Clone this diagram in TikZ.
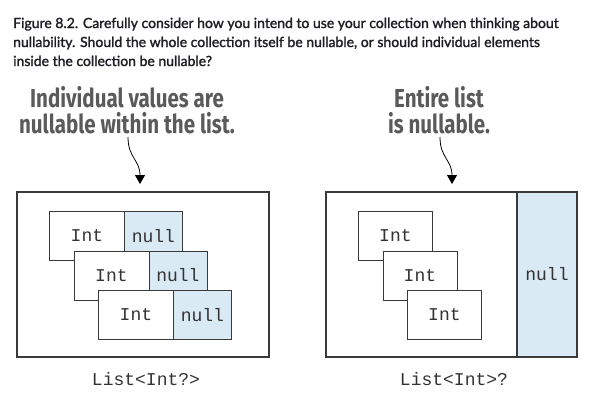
\documentclass[tikz,border=0pt]{standalone}
\usepackage{fontspec}
\setmainfont{Lato}
\setmonofont{Liberation Mono}
\newfontfamily\capfont[FakeBold=1.6]{Lato}
\newfontfamily\headfont[FakeStretch=0.79]{Fira Sans}
\usetikzlibrary{arrows.meta}
\definecolor{nullblue}{HTML}{D9EAF5}
\definecolor{captxt}{HTML}{1E1E24}
\definecolor{headtxt}{HTML}{5A5A5A}
\definecolor{boxline}{HTML}{3A3A3A}
\begin{document}
\begin{tikzpicture}[x=1pt,y=-1pt,
  caption/.style={anchor=base west, inner sep=0, text=captxt, font=\capfont\fontsize{14}{19}\selectfont},
  heading/.style={anchor=north, inner sep=0, align=center, text=headtxt, font=\headfont\bfseries\fontsize{26}{25.5}\selectfont},
  outerbox/.style={draw=boxline, line width=1.2pt, fill=white, minimum height=165pt, inner sep=0},
  cell/.style={draw=boxline, line width=0.9pt, minimum height=49pt, inner sep=0, anchor=north west, font=\ttfamily\fontsize{18}{18}\selectfont, text=black!80},
  intcell/.style={cell, fill=white, minimum width=75pt},
  intcellR/.style={cell, fill=white, minimum width=74pt},
  nullcell/.style={cell, fill=nullblue, minimum width=58pt},
  typelabel/.style={inner sep=0, font=\ttfamily\fontsize{18}{18}\selectfont, text=black!80},
  pointer/.style={draw=black, line width=0.8pt, -{Triangle[width=10pt,length=9pt]}}
]
\useasboundingbox[fill=white] (0,0) rectangle (590,410);

% caption
\node[caption] (cap1) at (13,28) {Figure 8.2. Carefully consider how you intend to use your collection when thinking about};
\node[caption] (cap2) at (13,47) {nullability. Should the whole collection itself be nullable, or should individual elements};
\node[caption] (cap3) at (13,66) {inside the collection be nullable?};

% headings
\node[heading] (headL) at (127,86.5) {Individual values are\\nullable within the list.};
\node[heading] (headR) at (439,86.5) {Entire list\\is nullable.};

% arrows
\coordinate (aLs) at (128,137);
\coordinate (aLe) at (140,184);
\coordinate (aRs) at (440,137);
\coordinate (aRe) at (452,184);
\draw[pointer] (aLs) .. controls (128,158) and (140,160) .. (aLe);
\draw[pointer] (aRs) .. controls (440,158) and (452,160) .. (aRe);

% left box: List<Int?>
\node[outerbox, minimum width=252pt] (outL) at (143,274.5) {};
\node[intcell]  (l1i) at (49,211) {Int};
\node[nullcell] (l1n) at (124,211) {null};
\node[intcell]  (l2i) at (73.5,250.5) {Int};
\node[nullcell] (l2n) at (148.5,250.5) {null};
\node[intcell]  (l3i) at (98,290) {Int};
\node[nullcell] (l3n) at (173,290) {null};
\node[typelabel] (labL) at (146,379) {List<Int?>};

% right box: List<Int>?
\node[outerbox, minimum width=251pt] (outR) at (451.5,274.5) {};
\node[outerbox, fill=nullblue, minimum width=60pt, font=\ttfamily\fontsize{18}{18}\selectfont, text=black!80] (rnull) at (547,274.5) {null};
\node[intcellR] (r1i) at (358,211) {Int};
\node[intcellR] (r2i) at (382.5,250.5) {Int};
\node[intcellR] (r3i) at (407,290) {Int};
\node[typelabel] (labR) at (454,379) {List<Int>?};
\end{tikzpicture}
\end{document}
